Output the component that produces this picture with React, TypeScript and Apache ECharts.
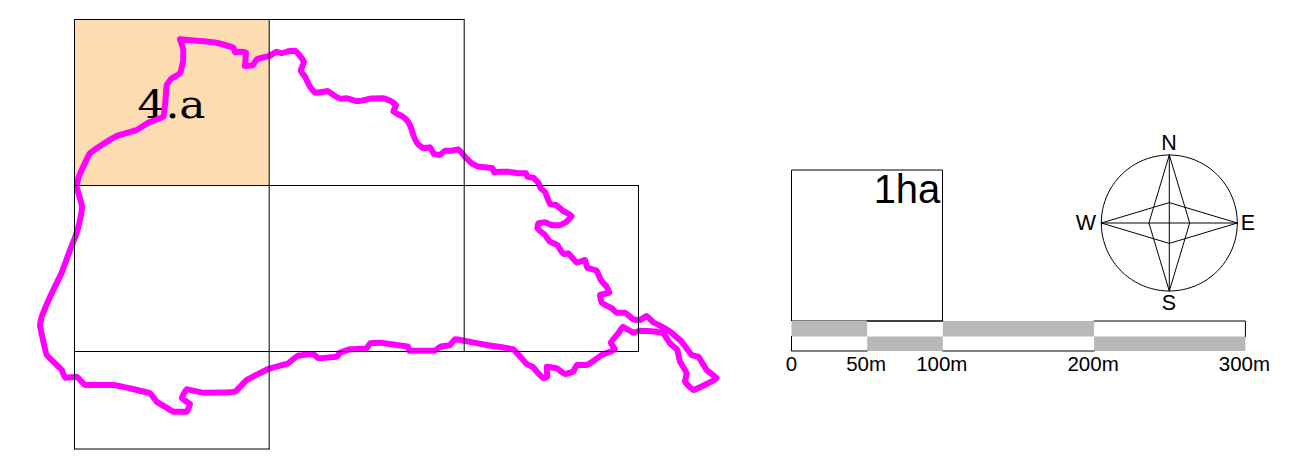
import React, { useEffect, useRef } from "react";
import * as echarts from "echarts";

const BLACK = "#000000";
const MAGENTA = "#ff00ff";
const ORANGE = "#fddcb1";
const GREY = "#b8b8b8";

// Plot boundary traced on the map plane
const boundary: [number, number][] = [
  [180, 39.3], [196.7, 40.7], [213.3, 42.3], [225, 45], [234, 48.3], [235, 52.3], [240, 51.7], [246, 52.3], [245, 66], [252.7, 65.3],
  [256.7, 59.3], [263.3, 57.3], [269.3, 56], [276.7, 51.7], [281.7, 53.3], [288.3, 51.3], [295, 50.7], [299.3, 55], [304, 61.7], [300.7, 70.7],
  [305, 76.7], [310, 86.7], [315, 92.7], [321.7, 92], [327.7, 91], [333.3, 95], [340.7, 98.7], [346.7, 98.3], [355, 100.7], [360, 101],
  [370, 98.7], [383.3, 98.3], [390, 100.7], [396, 105], [393.3, 111.7], [401.7, 116], [406.7, 120], [410.7, 126.7], [413.3, 135], [417.3, 143.3],
  [423.3, 148.3], [430, 147.3], [434, 154], [440, 155], [445, 150.7], [451.7, 150.7], [458.3, 149.3], [465, 156.7], [471.7, 163.3], [478.3, 166.7],
  [485, 167.3], [492.7, 168.3], [494, 172.3], [500, 171.7], [508.3, 171.7], [518.3, 173.3], [526, 173.3], [527.3, 176.7], [533.3, 177.7], [538.3, 182.7],
  [540.7, 188.3], [545, 191.7], [550, 204], [556, 205], [563.3, 211], [571.7, 216], [566.7, 221.7], [560, 225.3], [551.7, 225], [545, 222.3],
  [538.3, 223.3], [537.3, 228.3], [545, 235], [550, 241.7], [557.3, 245], [563.3, 254], [568.3, 253.3], [576.7, 262.7], [585, 260], [587.3, 267.7],
  [596.7, 270.7], [600.7, 280], [606.7, 286.7], [609.3, 292.7], [600, 295], [601.7, 302.7], [611.7, 308.3], [616.7, 312.7], [625, 312.7], [633.3, 319.3],
  [640, 320], [646.7, 316], [653.3, 322.3], [660, 325.7], [670, 331.7], [681.7, 341.7], [691.7, 355], [698.3, 356.7], [706.7, 370], [716.7, 378.3],
  [693.3, 390], [685, 381.7], [686.7, 373.3], [680, 361.7], [677.3, 350], [670, 343.3], [663.3, 333.3], [656.7, 331.7], [640, 330.7], [633.3, 332.7],
  [622.7, 326.7], [618.3, 333.3], [610.7, 342.7], [615, 349.3], [601.7, 355], [590, 363.3], [586.7, 365], [576.7, 365], [573.3, 371.7], [565, 374],
  [556.7, 368.3], [546.7, 366.7], [547.3, 376.7], [543.3, 378.3], [538.3, 373.3], [533.3, 367.3], [526.7, 364], [513.3, 349.3], [486.7, 345], [464.3, 340.7],
  [455, 339.3], [450, 345], [440, 346.7], [435, 350.7], [409.3, 350.7], [408.3, 346.7], [390, 344], [380, 342.7], [370, 343.3], [366.7, 348.3],
  [350, 349.3], [340, 352.7], [336.7, 356.7], [318.3, 358.3], [313.3, 354], [297.3, 356], [288.3, 363.3], [280, 365.7], [268.3, 369], [246.7, 380],
  [235, 391.7], [203.3, 392.7], [186.7, 389.3], [181.7, 398.3], [190, 404], [186.7, 411.7], [173.3, 411.7], [165, 406.7], [156.7, 401.7], [150, 393.3],
  [113.3, 385], [100, 385], [85, 385], [76.7, 376.7], [65, 377.7], [61.7, 370], [46.7, 355], [43, 340], [40, 325], [41.7, 316.7], [50, 297],
  [62, 272], [70, 250], [76, 235], [80, 220], [82, 206.7], [79, 195], [76.7, 186.7], [78.3, 178.3], [84, 165], [90, 153.3], [101.7, 145], [116.7, 136], [136.7, 130],
  [148.3, 122.7], [163.3, 116.7], [165.5, 100], [166.7, 85], [171, 79], [180, 73.3], [183, 62], [183.3, 50], [180, 39.3],
];

// Survey grid edges: [x0, y0, x1, y1]
const gridEdges: number[][] = [
  [74.5, 19.5, 464.2, 19.5], [74.5, 185.5, 638.5, 185.5], [74.5, 351.5, 638.5, 351.5], [74.5, 449, 269.2, 449],
  [74.5, 19.5, 74.5, 449], [269.2, 19.5, 269.2, 449], [464.2, 19.5, 464.2, 351.5], [638.5, 185.5, 638.5, 351.5],
];
const highlightedCell = [74.5, 19.5, 269.2, 185.5];
const hectare = [791.5, 170, 942.5, 321];

// Scale bar
const scaleStops = [0, 50, 100, 200, 300];
const scaleLabels = ["0", "50m", "100m", "200m", "300m"];
const scaleLeft = 791.5;
const pxPerMetre = 1.513;
const toBar = (m: number) => scaleLeft + m * pxPerMetre;
const scaleTop = 321;
const scaleMid = 336.5;
const scaleBottom = 351;

// Compass
const compassCentre: [number, number] = [1169.3, 223];
const compassRadius = 68;
const compassInner = 20.4;
const compassLabels = ["N", "E", "S", "W"];

const [cx, cy] = compassCentre;
const R = compassRadius;
const r = compassInner;
const compassLines: [number, number][][] = [
  [[cx, cy - R], [cx + r, cy], [cx, cy + R], [cx - r, cy], [cx, cy - R]],
  [[cx + R, cy], [cx, cy - r], [cx - R, cy], [cx, cy + r], [cx + R, cy]],
  [[cx, cy - R], [cx, cy + R]],
  [[cx - R, cy], [cx + R, cy]],
];

type Label = { text: string; x: number; y: number; size: number; family?: string; sx?: number };
const SANS = '"Liberation Sans", Arial, sans-serif';
const texts: Label[] = [
  { text: "4.a", x: 171.5, y: 104, size: 40, family: '"DejaVu Serif", serif', sx: 1.1 },
  { text: "1ha", x: 907, y: 189, size: 40 },
  { text: compassLabels[0], x: 1169, y: 142.5, size: 21.5 },
  { text: compassLabels[1], x: 1248, y: 223, size: 21.5 },
  { text: compassLabels[2], x: 1169, y: 303, size: 21.5 },
  { text: compassLabels[3], x: 1086, y: 223, size: 21.5 },
  ...scaleLabels.map((t, i) => ({ text: t, x: toBar(scaleStops[i]) - (i === 0 ? 0 : 1), y: 363, size: 20.5 })),
];

const rectSeries = (cells: number[][], fill: string, stroke: string | null) => ({
  type: "custom",
  coordinateSystem: "cartesian2d",
  clip: false,
  silent: true,
  data: cells,
  encode: { x: [0, 2], y: [1, 3] },
  renderItem: (_: any, api: any) => {
    const a = api.coord([api.value(0), api.value(1)]);
    const b = api.coord([api.value(2), api.value(3)]);
    return {
      type: "rect",
      shape: { x: a[0], y: a[1], width: b[0] - a[0], height: b[1] - a[1] },
      style: { fill, stroke: stroke ?? undefined, lineWidth: stroke ? 1 : 0 },
    };
  },
});

const lineSeries = (points: [number, number][], color: string, width: number, smooth: number | boolean = false) => ({
  type: "line",
  data: points,
  showSymbol: false,
  symbol: "none",
  smooth,
  clip: false,
  silent: true,
  animation: false,
  lineStyle: { color, width, cap: "round", join: "round" },
});

export default function App() {
  const ref = useRef<HTMLDivElement>(null);
  useEffect(() => {
    const chart = echarts.init(ref.current!, undefined, { renderer: "svg" });
    chart.setOption({
      animation: false,
      backgroundColor: "#ffffff",
      grid: { left: 0, right: 0, top: 0, bottom: 0 },
      xAxis: { type: "value", min: 0, max: 1294, show: false },
      yAxis: { type: "value", min: 0, max: 458, inverse: true, show: false },
      series: [
        rectSeries([highlightedCell], ORANGE, null),
        lineSeries(boundary, MAGENTA, 6, 0.08),
        ...gridEdges.map((e) => lineSeries([[e[0], e[1]], [e[2], e[3]]], BLACK, 1)),
        rectSeries([hectare], "transparent", BLACK),
        rectSeries(
          [
            [toBar(0), scaleTop, toBar(50), scaleMid],
            [toBar(50), scaleMid, toBar(100), scaleBottom],
            [toBar(100), scaleTop, toBar(200), scaleMid],
            [toBar(200), scaleMid, toBar(300), scaleBottom],
          ],
          GREY,
          null
        ),
        lineSeries([[toBar(200), scaleTop], [toBar(300), scaleTop], [toBar(300), scaleMid]], BLACK, 1),
        lineSeries([[toBar(0), scaleMid], [toBar(0), scaleBottom], [toBar(50), scaleBottom]], BLACK, 1),
        lineSeries([[toBar(100), scaleBottom], [toBar(200), scaleBottom]], BLACK, 1),
        lineSeries([[toBar(50), scaleTop], [toBar(100), scaleTop]], BLACK, 1),
        {
          type: "custom",
          coordinateSystem: "cartesian2d",
          clip: false,
          silent: true,
          data: [[cx, cy, R]],
          renderItem: (_: any, api: any) => {
            const c = api.coord([api.value(0), api.value(1)]);
            return {
              type: "circle",
              shape: { cx: c[0], cy: c[1], r: api.size([api.value(2), 0])[0] },
              style: { fill: "transparent", stroke: BLACK, lineWidth: 1 },
            };
          },
        },
        ...compassLines.map((l) => lineSeries(l, BLACK, 1)),
        {
          type: "custom",
          coordinateSystem: "cartesian2d",
          clip: false,
          silent: true,
          data: texts.map((t) => [t.x, t.y]),
          renderItem: (p: any, api: any) => {
            const t = texts[p.dataIndex];
            const c = api.coord([api.value(0), api.value(1)]);
            return {
              type: "text",
              x: c[0],
              y: c[1],
              scaleX: t.sx ?? 1,
              style: {
                text: t.text,
                fill: BLACK,
                font: `${t.size}px ${t.family ?? SANS}`,
                align: "center",
                verticalAlign: "middle",
              },
            };
          },
        },
      ],
    });
    return () => chart.dispose();
  }, []);
  return (
    <div
      ref={ref}
      style={{ position: "absolute", left: 0, top: 0, width: 1294, height: 458 }}
    />
  );
}
